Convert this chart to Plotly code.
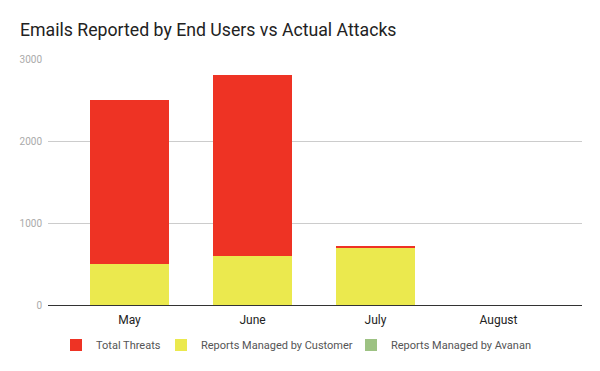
import plotly.graph_objects as go

months = ["May", "June", "July", "August"]
customer = [500, 600, 700, 0]
threats = [2000, 2200, 20, 0]
avanan = [0, 0, 0, 0]
y_ticks = [0, 1000, 2000, 3000]

RED = "rgb(238,51,36)"
YELLOW = "rgb(235,233,78)"
GREEN = "rgb(157,194,131)"

fig = go.Figure()
fig.add_trace(go.Bar(x=months, y=customer, name="Reports Managed by Customer",
                     marker=dict(color=YELLOW, line=dict(width=0)), legendrank=2,
                     legendwidth=145))
fig.add_trace(go.Bar(x=months, y=threats, name="Total Threats",
                     marker=dict(color=RED, line=dict(width=0)), legendrank=1,
                     legendwidth=60))
fig.add_trace(go.Bar(x=months, y=avanan, name="Reports Managed by Avanan",
                     marker=dict(color=GREEN, line=dict(width=0)), legendrank=3))

fig.update_layout(
    barmode="stack",
    bargap=0.35,
    width=600, height=371,
    margin=dict(l=48, r=18, t=59, b=66, autoexpand=False),
    paper_bgcolor="white", plot_bgcolor="white",
    font=dict(family="Roboto", color="#222"),
    title=dict(text="Emails Reported by End Users vs Actual Attacks",
               x=20/600, xanchor="left", y=1-30/371, yanchor="middle",
               font=dict(size=17.7, color="#222", family="Roboto")),
    showlegend=True,
    legend=dict(orientation="h", x=(56-48)/534, xanchor="left",
                y=-0.163, yanchor="middle",
                font=dict(size=11, color="#555"), traceorder="normal"),
    xaxis=dict(range=[-0.6626, 3.6788], showgrid=False, showline=False,
               tickfont=dict(size=12, color="#222"), ticks="", ticklabelstandoff=6),
    yaxis=dict(range=[0, 3000], tickvals=y_ticks, showgrid=True, gridcolor="#ccc",
               zeroline=True, zerolinecolor="#333", zerolinewidth=1,
               tickfont=dict(size=10, color="#aaa"), ticks="", showline=False,
               ticklabelstandoff=5),
)

fig.write_html("out.html", config={"displayModeBar": False},
               post_script="document.body.style.margin='0';")
